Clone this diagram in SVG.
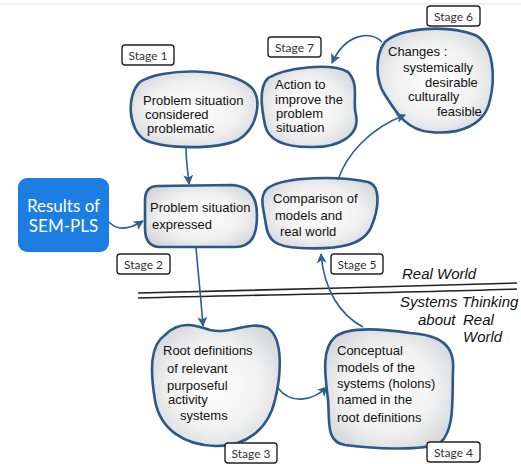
<svg xmlns="http://www.w3.org/2000/svg" width="521" height="464" viewBox="0 0 521 464">
<defs>
<radialGradient id="blobFill" cx="50%" cy="50%" r="60%">
<stop offset="0" stop-color="#ffffff"/>
<stop offset="0.6" stop-color="#f1f1f1"/>
<stop offset="1" stop-color="#d4d6d8"/>
</radialGradient>
<marker id="arr" viewBox="0 0 10 10" refX="9" refY="5" markerWidth="10" markerHeight="10" markerUnits="userSpaceOnUse" orient="auto">
<path d="M0,0 L10,5 L0,10 L2.5,5 Z" fill="#2c5f94"/>
</marker>
</defs>
<style>
.blob{fill:url(#blobFill);stroke:#2b5887;stroke-width:2.6;stroke-linejoin:round}
.hand{font-family:"Liberation Sans","DejaVu Sans",sans-serif;font-size:13px;fill:#111}
.stage rect{fill:#fff;stroke:#222;stroke-width:1.4}
.stage text{font-family:Lato,"Liberation Sans",sans-serif;font-size:12px;fill:#333;text-anchor:middle}
.conn path{fill:none;stroke:#2c5f94;stroke-width:1.6;marker-end:url(#arr)}
.rw{font-family:"Liberation Sans","DejaVu Sans",sans-serif;font-size:15px;fill:#111;font-style:italic}
</style>
<rect x="0" y="0" width="521" height="464" fill="#fff"/>
<line x1="0" y1="4" x2="521" y2="4" stroke="#f0f0f0" stroke-width="2"/>

<g id="divider">
<path d="M138,293 C250,290 400,287 517,283" fill="none" stroke="#222" stroke-width="1.6"/>
<path d="M138,298 C250,295 400,293 517,289" fill="none" stroke="#222" stroke-width="1.6"/>
<text class="rw" x="402" y="279">Real World</text>
<text class="rw" x="400" y="307" font-size="14">Systems Thinking</text>
<text class="rw" x="418" y="325" font-size="12">about</text>
<text class="rw" x="463" y="325" font-size="12">Real</text>
<text class="rw" x="463" y="342" font-size="12">World</text>
</g>

<g id="results">
<rect x="18" y="178" width="91" height="74" rx="9" fill="#1c7de2"/>
<text x="63.5" y="212" font-family="Lato,'Liberation Sans',sans-serif" font-size="17" fill="#fff" text-anchor="middle">Results of</text>
<text x="63.5" y="232" font-family="Lato,'Liberation Sans',sans-serif" font-size="17" fill="#fff" text-anchor="middle">SEM-PLS</text>
</g>

<g id="stage1">
<path class="blob" d="M140,82 C160,68 230,66 252,88 C262,100 258,128 238,140 C215,150 165,149 145,140 C128,130 126,95 140,82 Z"/>
<text class="hand" x="143" y="105">Problem situation</text>
<text class="hand" x="145" y="119">considered</text>
<text class="hand" x="147" y="133">problematic</text>
</g>

<g id="stage2">
<path class="blob" d="M158,186 L232,185 C250,186 257,198 257,215 C257,235 252,247 235,247 L160,247 C150,247 145,240 145,228 L145,200 C145,190 150,186 158,186 Z"/>
<text class="hand" x="150" y="212">Problem situation</text>
<text class="hand" x="152" y="229">expressed</text>
</g>

<g id="stage3">
<path class="blob" d="M165,335 C180,320 195,325 210,330 C230,335 250,320 268,328 C285,340 280,380 275,400 C268,430 245,447 215,446 C185,445 160,430 155,400 C150,370 150,345 165,335 Z"/>
<text class="hand" x="163" y="355">Root definitions</text>
<text class="hand" x="167" y="373">of relevant</text>
<text class="hand" x="167" y="390">purposeful</text>
<text class="hand" x="168" y="404">activity</text>
<text class="hand" x="180" y="420">systems</text>
</g>

<g id="stage4">
<path class="blob" d="M335,337 C350,325 390,330 410,333 C440,335 455,345 453,370 C452,400 455,430 440,443 C420,452 370,448 345,445 C325,442 330,420 328,400 C326,380 320,350 335,337 Z"/>
<text class="hand" x="337" y="355">Conceptual</text>
<text class="hand" x="337" y="372">models of the</text>
<text class="hand" x="337" y="388">systems (holons)</text>
<text class="hand" x="337" y="404">named in the</text>
<text class="hand" x="337" y="422">root definitions</text>
</g>

<g id="stage5">
<path class="blob" d="M268,188 C285,176 340,176 368,182 C382,186 378,210 372,225 C365,245 340,250 300,248 C275,247 268,240 266,225 C264,210 258,196 268,188 Z"/>
<text class="hand" x="273" y="203">Comparison of</text>
<text class="hand" x="275" y="220">models and</text>
<text class="hand" x="280" y="236">real world</text>
</g>

<g id="stage6">
<path class="blob" d="M385,42 C400,28 445,24 475,35 C495,45 495,80 490,100 C485,125 460,135 430,132 C405,130 395,110 385,95 C375,80 375,55 385,42 Z"/>
<text class="hand" x="388" y="56" font-size="14">Changes :</text>
<text class="hand" x="403" y="72">systemically</text>
<text class="hand" x="425" y="87">desirable</text>
<text class="hand" x="408" y="101">culturally</text>
<text class="hand" x="437" y="116">feasible</text>
</g>

<g id="stage7">
<path class="blob" d="M268,78 C285,68 330,62 348,72 C360,85 352,100 356,115 C360,135 340,148 310,147 C285,147 268,140 265,125 C262,110 258,88 268,78 Z"/>
<text class="hand" x="275" y="89">Action to</text>
<text class="hand" x="275" y="104">improve the</text>
<text class="hand" x="276" y="118">problem</text>
<text class="hand" x="276" y="132">situation</text>
</g>

<g id="connectors" class="conn">
<path d="M186,147 C186,162 188,172 189,184"/>
<path d="M109,222 C118,232 130,229 143,221"/>
<path d="M196,248 C198,270 201,300 203,326"/>
<path d="M278,388 C290,404 312,402 327,387"/>
<path d="M363,327 C340,315 324,290 321,254"/>
<path d="M338,180 C346,155 370,128 405,115"/>
<path d="M382,42 C370,30 345,34 332,63"/>
</g>

<g id="labels">
<g class="stage" id="label1"><rect x="122" y="45" width="52" height="20" rx="3"/><text x="148" y="59.5">Stage 1</text></g>
<g class="stage" id="label2"><rect x="117" y="254" width="53" height="20" rx="3"/><text x="143.5" y="268.5">Stage 2</text></g>
<g class="stage" id="label3"><rect x="225" y="443" width="52" height="20" rx="3"/><text x="251" y="457.5">Stage 3</text></g>
<g class="stage" id="label4"><rect x="427" y="442" width="53" height="20" rx="3"/><text x="453.5" y="456.5">Stage 4</text></g>
<g class="stage" id="label5"><rect x="331" y="254" width="52" height="20" rx="3"/><text x="357" y="268.5">Stage 5</text></g>
<g class="stage" id="label6"><rect x="427" y="6" width="53" height="20" rx="3"/><text x="453.5" y="20.5">Stage 6</text></g>
<g class="stage" id="label7"><rect x="268" y="37" width="53" height="20" rx="3"/><text x="294.5" y="51.5">Stage 7</text></g>
</g>
</svg>
